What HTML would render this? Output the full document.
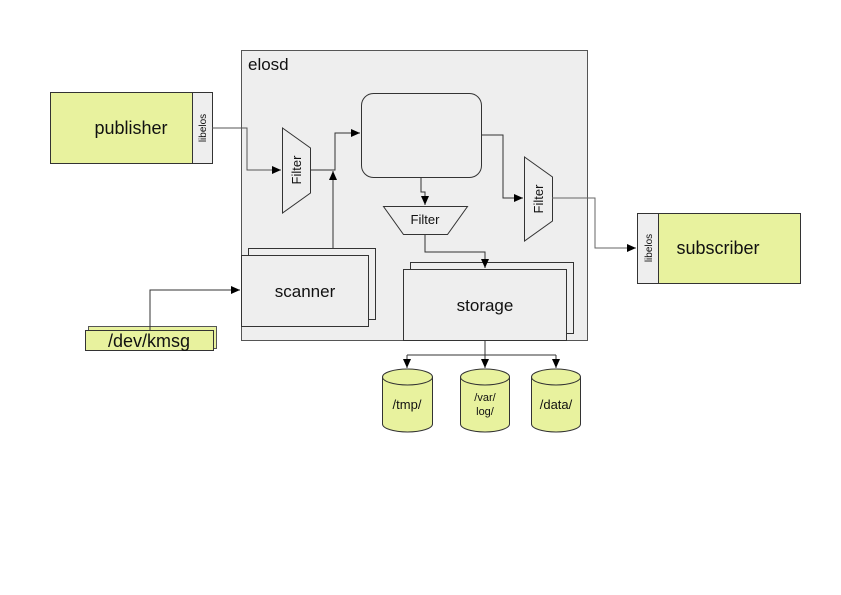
<!DOCTYPE html>
<html><head><style>body{margin:0;background:#fff}svg{display:block}text{font-family:"Liberation Sans",sans-serif;fill:#111}</style></head>
<body>
<svg width="841" height="595" viewBox="0 0 841 595" xmlns="http://www.w3.org/2000/svg">
<defs><marker id="a" markerWidth="10" markerHeight="10" refX="9" refY="5" orient="auto" markerUnits="userSpaceOnUse"><path d="M0,1 L9,5 L0,9 z" fill="#000"/></marker></defs>
<rect x="241.5" y="50.5" width="346" height="290" fill="#eeeeee" stroke="#555"/>
<text x="248" y="70" font-size="17">elosd</text>
<rect x="50.5" y="92.5" width="142" height="71" fill="#e8f29e" stroke="#333"/>
<rect x="192.5" y="92.5" width="20" height="71" fill="#eeeeee" stroke="#333"/>
<text x="131" y="134" font-size="18" text-anchor="middle">publisher</text>
<text transform="translate(206,128) rotate(-90)" font-size="10" text-anchor="middle">libelos</text>
<polyline points="212,128 247,128 247,170 281,170" fill="none" stroke="#555" marker-end="url(#a)"/>
<path d="M282.5,128 L310.5,148 L310.5,193 L282.5,213 Z" fill="#eeeeee" stroke="#333"/>
<text transform="translate(301,170) rotate(-90)" font-size="13" text-anchor="middle">Filter</text>
<polyline points="310,170 335,170 335,133 360,133" fill="none" stroke="#333" marker-end="url(#a)"/>
<rect x="361.5" y="93.5" width="120" height="84" rx="12" fill="#eeeeee" stroke="#333"/>
<rect x="248.5" y="248.5" width="127" height="71" fill="#eeeeee" stroke="#333"/>
<rect x="241.5" y="255.5" width="127" height="71" fill="#eeeeee" stroke="#333"/>
<text x="305" y="297" font-size="17" text-anchor="middle">scanner</text>
<line x1="333" y1="248" x2="333" y2="171" stroke="#333" marker-end="url(#a)"/>
<rect x="88.5" y="326.5" width="128" height="22" fill="#e8f29e" stroke="#555"/>
<rect x="85.5" y="330.5" width="128" height="20" fill="#e8f29e" stroke="#333"/>
<text x="149" y="347" font-size="18" text-anchor="middle">/dev/kmsg</text>
<polyline points="150,330 150,290 240,290" fill="none" stroke="#333" marker-end="url(#a)"/>
<polyline points="421,177 421,192 425,192 425,205" fill="none" stroke="#333" marker-end="url(#a)"/>
<path d="M383.5,206.5 L467.5,206.5 L447.5,234.5 L403.5,234.5 Z" fill="#eeeeee" stroke="#333"/>
<text x="425" y="224" font-size="13" text-anchor="middle">Filter</text>
<rect x="410.5" y="262.5" width="163" height="71" fill="#eeeeee" stroke="#333"/>
<rect x="403.5" y="269.5" width="163" height="71" fill="#eeeeee" stroke="#333"/>
<polyline points="425,234 425,252 485,252 485,268" fill="none" stroke="#333" marker-end="url(#a)"/>
<text x="485" y="311" font-size="17" text-anchor="middle">storage</text>
<polyline points="481,135 503,135 503,198 523,198" fill="none" stroke="#333" marker-end="url(#a)"/>
<path d="M524.5,157 L552.5,177 L552.5,221 L524.5,241 Z" fill="#eeeeee" stroke="#333"/>
<text transform="translate(543,199) rotate(-90)" font-size="13" text-anchor="middle">Filter</text>
<polyline points="552,198 595,198 595,248 636,248" fill="none" stroke="#666" marker-end="url(#a)"/>
<rect x="637.5" y="213.5" width="21" height="70" fill="#eeeeee" stroke="#333"/>
<rect x="658.5" y="213.5" width="142" height="70" fill="#e8f29e" stroke="#333"/>
<text transform="translate(652,248) rotate(-90)" font-size="10" text-anchor="middle">libelos</text>
<text x="718" y="254" font-size="18" text-anchor="middle">subscriber</text>
<line x1="485" y1="340" x2="485" y2="355" stroke="#333"/>
<line x1="407" y1="355" x2="556" y2="355" stroke="#333"/>
<line x1="407" y1="355" x2="407" y2="368" stroke="#333" marker-end="url(#a)"/>
<line x1="485" y1="355" x2="485" y2="368" stroke="#333" marker-end="url(#a)"/>
<line x1="556" y1="355" x2="556" y2="368" stroke="#333" marker-end="url(#a)"/>
<g fill="#e8f29e" stroke="#333">
<path d="M382.5,377 A25,8 0 0 1 432.5,377 L432.5,424 A25,8 0 0 1 382.5,424 Z"/><path d="M382.5,377 A25,8 0 0 0 432.5,377" fill="none"/>
<path d="M460.5,377 A24.5,8 0 0 1 509.5,377 L509.5,424 A24.5,8 0 0 1 460.5,424 Z"/><path d="M460.5,377 A24.5,8 0 0 0 509.5,377" fill="none"/>
<path d="M531.5,377 A24.5,8 0 0 1 580.5,377 L580.5,424 A24.5,8 0 0 1 531.5,424 Z"/><path d="M531.5,377 A24.5,8 0 0 0 580.5,377" fill="none"/>
</g>
<text x="407" y="409" font-size="13" text-anchor="middle">/tmp/</text>
<text x="485" y="401" font-size="11" text-anchor="middle">/var/</text>
<text x="485" y="415" font-size="11" text-anchor="middle">log/</text>
<text x="556" y="409" font-size="13" text-anchor="middle">/data/</text>
</svg>
</body></html>
